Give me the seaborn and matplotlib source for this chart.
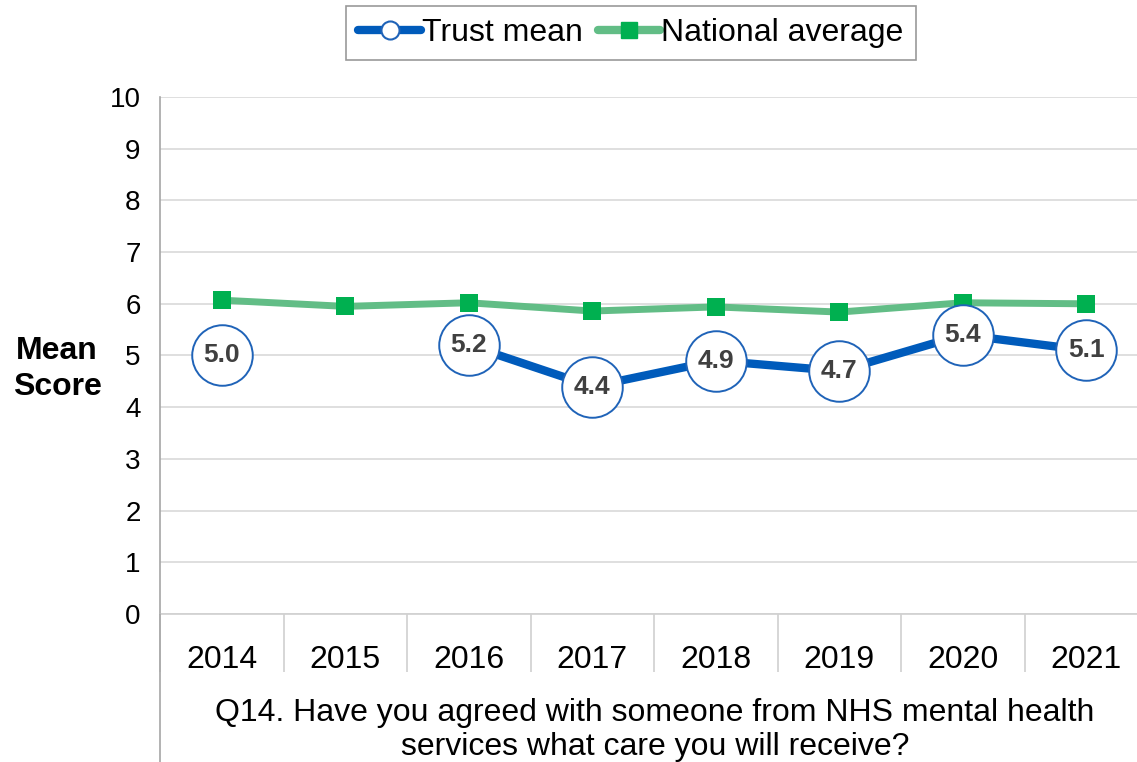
import numpy as np
import pandas as pd
import matplotlib
matplotlib.use("Agg")
import matplotlib.pyplot as plt
from matplotlib.lines import Line2D
import seaborn as sns

years = ["2014", "2015", "2016", "2017", "2018", "2019", "2020", "2021"]
trust_mean = [5.0, np.nan, 5.2, 4.4, 4.9, 4.7, 5.4, 5.1]
national_avg = [6.07, 5.95, 6.02, 5.86, 5.94, 5.84, 6.02, 6.0]
yticks = list(range(0, 11))
question = "Q14. Have you agreed with someone from NHS mental health\nservices what care you will receive?"

sns.set_theme(style="white")
plt.rcParams['font.family'] = ['Liberation Sans', 'DejaVu Sans']
plt.rcParams['text.color'] = 'black'
plt.rcParams['xtick.color'] = 'black'
plt.rcParams['ytick.color'] = 'black'
plt.rcParams['axes.labelcolor'] = 'black'

BLUE = "#005bbb"
BLUE_EDGE = "#1f63b8"
GREEN_LINE = "#62bd86"
GREEN_MK = "#00b050"

fig = plt.figure(figsize=(11.37, 7.62), dpi=100)
ax = fig.add_axes([160/1137, 1-614/762, (1148-160)/1137, (614-97)/762])

x = np.arange(len(years))
df = pd.DataFrame({"x": x, "year": years, "trust": trust_mean, "national": national_avg})

# national average
sns.lineplot(data=df, x="x", y="national", ax=ax, color=GREEN_LINE, lw=5, zorder=2)
sns.scatterplot(data=df, x="x", y="national", ax=ax, marker="s", s=150, color=GREEN_MK,
                edgecolor=GREEN_MK, linewidth=0, zorder=3)

# trust mean: contiguous segment (2015 missing)
seg = df.dropna(subset=["trust"])
seg = seg[seg["x"] >= 2]
sns.lineplot(data=seg, x="x", y="trust", ax=ax, color=BLUE, lw=6, zorder=4)
sns.scatterplot(data=df.dropna(subset=["trust"]), x="x", y="trust", ax=ax, marker="o",
                s=1900, color="white", edgecolor=BLUE_EDGE, linewidth=1.4, zorder=5)
for xi, v in zip(x, trust_mean):
    if not np.isnan(v):
        ax.text(xi, v, f"{v:.1f}", ha="center", va="center", fontsize=19,
                fontweight="bold", color="#404040", zorder=6)

ax.set_xlim(-0.5, len(years) - 0.5)
ax.set_ylim(0, 10)
ax.set_yticks(yticks)
ax.set_yticklabels([str(t) for t in yticks], fontsize=20)
ax.yaxis.grid(True, color="#d9d9d9", lw=1.2)
ax.set_axisbelow(True)
ax.tick_params(axis="y", length=0, pad=14, left=False)

# category separators
ax.set_xticks(np.arange(-0.5, len(years), 1))
ax.set_xticklabels([""] * (len(years) + 1))
ax.tick_params(axis="x", which="major", bottom=True, length=42, color="#d0d0d0", width=1.2)
ax.set_xticks(x, minor=True)
ax.set_xticklabels(years, minor=True, fontsize=23)
ax.tick_params(axis="x", which="minor", bottom=True, length=0, pad=22)

for s in ["top", "right"]:
    ax.spines[s].set_visible(False)
ax.spines["bottom"].set_color("#d0d0d0")
ax.spines["bottom"].set_linewidth(1.2)
ax.spines["left"].set_color("#a6a6a6")
ax.spines["left"].set_linewidth(1.2)

ax.set_xlabel(question, fontsize=23, linespacing=1.2)
ax.xaxis.set_label_coords((655-160)/(1148-160), -(730-614)/(614-97))
ax.xaxis.label.set_va("center")
ax.set_ylabel("")

# left spine continuing to bottom of figure
fig.add_artist(Line2D([160/1137, 160/1137], [0, 1-614/762], color="#a6a6a6", lw=1.2,
                      transform=fig.transFigure))

fig.text(57/1137, 1-369/762, "Mean\nScore", ha="center", va="center", fontsize=23,
         fontweight="bold", linespacing=1.25)

handles = [
    Line2D([], [], color=BLUE, lw=6, marker="o", markersize=13, markerfacecolor="white",
           markeredgecolor=BLUE_EDGE, markeredgewidth=1.5),
    Line2D([], [], color=GREEN_LINE, lw=6, marker="s", markersize=11, markerfacecolor=GREEN_MK,
           markeredgecolor=GREEN_MK),
]
leg = fig.legend(handles, ["Trust mean", "National average"], loc="center",
                 bbox_to_anchor=(631/1137, 1-33/762), ncol=2, fontsize=23, frameon=True,
                 fancybox=False, edgecolor="#808080", handlelength=1.95, handletextpad=0.05,
                 columnspacing=0.45, borderpad=0.38, borderaxespad=0)
leg.get_frame().set_linewidth(1.2)

fig.savefig("out.png", dpi=100)
